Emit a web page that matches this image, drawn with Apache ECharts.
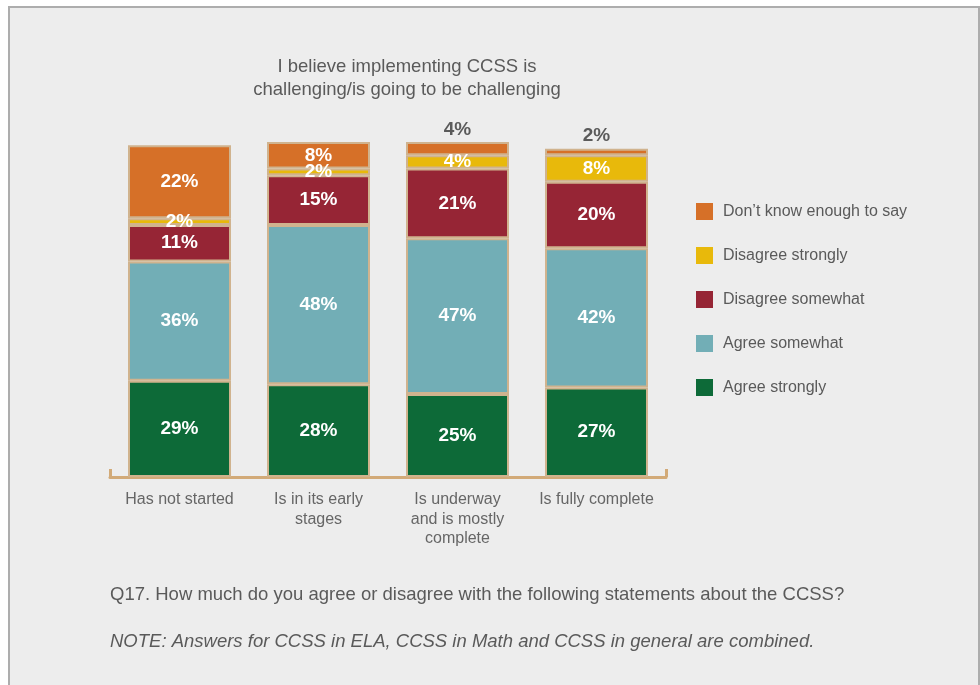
<!DOCTYPE html>
<html>
<head>
<meta charset="utf-8">
<script src="https://cdn.jsdelivr.net/npm/echarts@6/dist/echarts.min.js"></script>
<style>
  html, body { margin: 0; padding: 0; background: #ffffff; }
  #frame {
    position: absolute; left: 8px; top: 6px; width: 968px; height: 700px;
    background: #ededed; border: 2px solid #adadad; border-bottom: none;
  }
  #chart { position: absolute; left: 0; top: 0; width: 980px; height: 685px; }
</style>
</head>
<body>
<div id="frame"></div>
<div id="chart"></div>
<script>
// Survey responses by implementation stage (percent of respondents)
const categories = ['Has not started', 'Is in its early\nstages', 'Is underway\nand is mostly\ncomplete', 'Is fully complete'];
const agreeStrongly = [29, 28, 25, 27];
const agreeSomewhat = [36, 48, 47, 42];
const disagreeSomewhat = [11, 15, 21, 20];
const disagreeStrongly = [2, 2, 4, 8];
const dontKnow = [22, 8, 4, 2];
// Thin top segments get their value printed above the bar
const labelAbove = [false, false, true, true];

const FONT = 'Liberation Sans';
const TEXT = '#5a5a5a';
const EDGE = '#d0b38e';

const insideLabel = {
  show: true, position: 'inside', color: '#ffffff', fontFamily: FONT,
  fontSize: 19, fontWeight: 'bold', formatter: p => p.value + '%'
};

function makeSeries(name, values, color) {
  return {
    name, type: 'bar', stack: 'total', barWidth: 103,
    itemStyle: { color, borderColor: EDGE, borderWidth: 2 },
    label: insideLabel,
    data: values
  };
}

const series = [
  makeSeries('Agree strongly', agreeStrongly, '#0d6a38'),
  makeSeries('Agree somewhat', agreeSomewhat, '#72aeb6'),
  makeSeries('Disagree somewhat', disagreeSomewhat, '#962535'),
  makeSeries('Disagree strongly', disagreeStrongly, '#e8b90b'),
  makeSeries('Don\u2019t know enough to say', dontKnow.map((v, i) => labelAbove[i] ? {
    value: v,
    label: { position: 'top', distance: 3, color: TEXT }
  } : v), '#d67028')
];

const chart = echarts.init(document.getElementById('chart'), null, { renderer: 'canvas' });
chart.setOption({
  backgroundColor: 'transparent',
  animation: false,
  title: [
    {
      text: 'I believe implementing CCSS is\nchallenging/is going to be challenging',
      left: 407, top: 55, textAlign: 'center', padding: 0,
      textStyle: { fontFamily: FONT, fontSize: 18.5, fontWeight: 'normal', color: TEXT, lineHeight: 23 }
    },
    {
      text: 'Q17. How much do you agree or disagree with the following statements about the CCSS?',
      left: 110, top: 585, padding: 0,
      textStyle: { fontFamily: FONT, fontSize: 18.5, fontWeight: 'normal', color: TEXT }
    },
    {
      text: 'NOTE: Answers for CCSS in ELA, CCSS in Math and CCSS in general are combined.',
      left: 110, top: 632, padding: 0,
      textStyle: { fontFamily: FONT, fontSize: 18.5, fontWeight: 'normal', fontStyle: 'italic', color: TEXT }
    }
  ],
  legend: {
    orient: 'vertical', left: 696, top: 203, padding: 0,
    itemWidth: 17, itemHeight: 17, itemGap: 27, icon: 'rect',
    data: series.map(s => s.name).reverse(),
    itemStyle: { borderWidth: 0 },
    textStyle: { fontFamily: FONT, fontSize: 16, color: TEXT, padding: [0, 0, 0, 5] }
  },
  grid: { left: 110, width: 556, top: 142, height: 335 },
  xAxis: {
    type: 'category', data: categories,
    axisLine: { lineStyle: { color: '#d2aa78', width: 3 } },
    axisTick: { show: true, inside: true, length: 8, interval: i => i === 0, lineStyle: { color: '#d2aa78', width: 3 } },
    axisLabel: { fontFamily: FONT, fontSize: 16, color: '#666666', lineHeight: 19.5, margin: 13, interval: 0 }
  },
  yAxis: {
    type: 'value', min: 0, max: 101, show: false, splitLine: { show: false }
  },
  series
});
</script>
</body>
</html>
